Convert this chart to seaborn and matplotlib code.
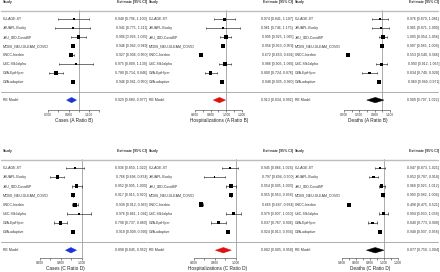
import numpy as np
import matplotlib
matplotlib.use('Agg')
import matplotlib.pyplot as plt
import matplotlib.transforms as mtrans
import seaborn as sns

studies = ['CU-AGE-ST', 'JHUAPL-Bucky', 'JHU_IDD-CovidSP', 'MOBS_NEU-GLEAM_COVID',
           'UNCC-hierbin', 'USC-SIkJalpha', 'UVA-EpiHiper', 'UVA-adaptive']

# Cases (A Ratio B)
cases_ab = [0.948, 0.941, 0.996, 0.946, 0.927, 0.975, 0.780, 0.946]
cases_ab_lo = [0.796, 0.771, 0.928, 0.942, 0.906, 0.809, 0.714, 0.941]
cases_ab_hi = [1.100, 1.111, 1.065, 0.949, 0.950, 1.139, 0.846, 0.950]
cases_ab_re = [0.929, 0.880, 0.977]

# Hospitalizations (A Ratio B)
hosp_ab = [0.974, 0.961, 0.995, 0.956, 0.672, 0.986, 0.800, 0.948]
hosp_ab_lo = [0.841, 0.746, 0.925, 0.953, 0.653, 0.905, 0.724, 0.935]
hosp_ab_hi = [1.107, 1.175, 1.065, 0.959, 0.691, 1.066, 0.876, 0.960]
hosp_ab_re = [0.913, 0.834, 0.992]

# Deaths (A Ratio B)
deaths_ab = [0.976, 0.981, 1.005, 0.997, 0.553, 0.990, 0.834, 0.960]
deaths_ab_lo = [0.870, 0.871, 0.954, 0.985, 0.540, 0.912, 0.740, 0.949]
deaths_ab_hi = [1.081, 1.090, 1.056, 1.008, 0.566, 1.067, 0.928, 0.971]
deaths_ab_re = [0.909, 0.797, 1.022]

# Cases (C Ratio D)
cases_cd = [0.936, 0.766, 0.952, 0.917, 0.938, 0.976, 0.798, 0.918]
cases_cd_lo = [0.850, 0.698, 0.905, 0.915, 0.912, 0.861, 0.737, 0.909]
cases_cd_hi = [1.022, 0.834, 1.000, 0.920, 0.963, 1.091, 0.860, 0.926]
cases_cd_re = [0.898, 0.845, 0.952]

# Hospitalizations (C Ratio D)
hosp_cd = [0.945, 0.797, 0.954, 0.955, 0.665, 0.979, 0.837, 0.924]
hosp_cd_lo = [0.866, 0.694, 0.905, 0.953, 0.647, 0.907, 0.767, 0.913]
hosp_cd_hi = [1.024, 0.900, 1.003, 0.958, 0.684, 1.050, 0.906, 0.934]
hosp_cd_re = [0.882, 0.805, 0.958]

# Deaths (C Ratio D)
deaths_cd = [0.947, 0.852, 0.968, 0.993, 0.498, 0.994, 0.840, 0.948]
deaths_cd_lo = [0.873, 0.787, 0.925, 0.982, 0.475, 0.930, 0.773, 0.937]
deaths_cd_hi = [1.021, 0.918, 1.012, 1.004, 0.521, 1.058, 0.908, 0.958]
deaths_cd_re = [0.877, 0.750, 1.004]

sns.set_theme(style='white')
plt.rcParams['font.family'] = ['Liberation Sans', 'DejaVu Sans']

W, H = 440, 272
fig = plt.figure(figsize=(4.4, 2.72), dpi=100)

blue, red, black = '#1a33d6', '#e01010', '#000000'
txt = '#333333'

# (est, lo, hi, re, xlabel, colour, xlim, left px, right px, major, minor, col_left, row)
panels = [
    (cases_ab, cases_ab_lo, cases_ab_hi, cases_ab_re, 'Cases (A Ratio B)', blue,
     (0.66, 1.24), 43.9, 103.6, [0.7, 0.9, 1.1], [0.8, 1.0, 1.2], 0, 0),
    (hosp_ab, hosp_ab_lo, hosp_ab_hi, hosp_ab_re, 'Hospitalizations (A Ratio B)', red,
     (0.56, 1.26), 191.9, 246.5, [0.6, 0.8, 1.0, 1.2], [0.7, 0.9, 1.1], 146, 0),
    (deaths_ab, deaths_ab_lo, deaths_ab_hi, deaths_ab_re, 'Deaths (A Ratio B)', black,
     (0.47, 1.14), 341.7, 393.0, [0.5, 0.7, 0.9, 1.1], [0.6, 0.8, 1.0], 292, 0),
    (cases_cd, cases_cd_lo, cases_cd_hi, cases_cd_re, 'Cases (C Ratio D)', blue,
     (0.57, 1.12), 36.9, 94.0, [0.6, 0.8, 1.0], [0.7, 0.9], 0, 1),
    (hosp_cd, hosp_cd_lo, hosp_cd_hi, hosp_cd_re, 'Hospitalizations (C Ratio D)', red,
     (0.57, 1.08), 190.9, 244.0, [0.6, 0.8, 1.0], [0.7, 0.9], 146, 1),
    (deaths_cd, deaths_cd_lo, deaths_cd_hi, deaths_cd_re, 'Deaths (C Ratio D)', black,
     (0.37, 1.24), 339.9, 400.5, [0.4, 0.6, 0.8, 1.0, 1.2], [0.5, 0.7, 0.9, 1.1], 292, 1),
]

# row geometry: (spine px, bottom data value, px per row)
rows = [(110, 11.1, 9.0), (258, 10.85, 9.14)]

for est, lo, hi, re, xlabel, col, xlim, x0, x1, major, minor, cl, r in panels:
    ybot, ymax, unit = rows[r]
    ytop = ybot - ymax * unit
    ax = fig.add_axes([x0 / W, 1 - ybot / H, (x1 - x0) / W, (ybot - ytop) / H])
    ax.set_xlim(xlim)
    ax.set_ylim(ymax, 0)
    est, lo, hi = np.array(est), np.array(lo), np.array(hi)
    y = np.arange(1, len(est) + 1)

    ax.axvline(1.0, color='#8a8a8a', lw=0.5, zorder=0)
    ax.hlines(y, lo, hi, color='#222222', lw=0.45)
    ax.vlines(lo, y - 0.15, y + 0.15, color='#222222', lw=0.45)
    ax.vlines(hi, y - 0.15, y + 0.15, color='#222222', lw=0.45)

    se = (hi - lo) / 3.92
    w = 1 / (se ** 2 + np.var(est))
    sns.scatterplot(x=est, y=y, size=w, sizes=(1.5, 9), marker='s', color='black',
                    linewidth=0, legend=False, ax=ax, zorder=3)

    ax.fill([re[1], re[0], re[2], re[0]], [10, 9.7, 10, 10.3], color=col, lw=0.3)

    tr = mtrans.blended_transform_factory(fig.transFigure, ax.transData)
    ax.plot([(cl + 1) / W, (cl + 146) / W], [0.1, 0.1], transform=tr, color='#bdbdbd',
            lw=1.0, clip_on=False)
    ax.plot([(cl + 1) / W, (cl + 146) / W], [9.05, 9.05], transform=tr, color='#a0a0a0',
            lw=0.6, clip_on=False)
    lx, rx = (cl + 3) / W, (cl + 147) / W
    ax.text(lx, -0.9, 'Study', transform=tr, fontsize=2.5, fontweight='bold', color=txt,
            va='center', ha='left')
    ax.text(rx, -0.9, 'Estimate [95% CI]', transform=tr, fontsize=2.5, fontweight='bold',
            color=txt, va='center', ha='right')
    for yy, name, e, l, h in zip(y, studies, est, lo, hi):
        ax.text(lx, yy, name, transform=tr, fontsize=2.5, color=txt, va='center', ha='left')
        ax.text(rx, yy, f'{e:.3f} [{l:.3f}, {h:.3f}]', transform=tr, fontsize=2.5,
                color=txt, va='center', ha='right')
    ax.text(lx, 10, 'RE Model', transform=tr, fontsize=2.5, color=txt, va='center', ha='left')
    ax.text(rx, 10, f'{re[0]:.3f} [{re[1]:.3f}, {re[2]:.3f}]', transform=tr, fontsize=2.5,
            color=txt, va='center', ha='right')

    for s in ['left', 'top', 'right']:
        ax.spines[s].set_visible(False)
    ax.spines['bottom'].set_bounds(min(major + minor), max(major + minor))
    ax.spines['bottom'].set_linewidth(0.4)
    ax.spines['bottom'].set_color('#333333')
    ax.set_xticks(major)
    ax.set_xticks(minor, minor=True)
    ax.set_xticklabels([f'{v:.3f}' for v in major])
    ax.set_yticks([])
    ax.tick_params(axis='x', which='both', bottom=True, length=1.2, width=0.4, pad=0.8,
                   labelsize=2.3, colors='#333333')
    ax.set_xlabel(xlabel, fontsize=3.4, labelpad=0.6, color='#222222')
    ax.patch.set_alpha(0)

fig.savefig('out.png', dpi=100)
